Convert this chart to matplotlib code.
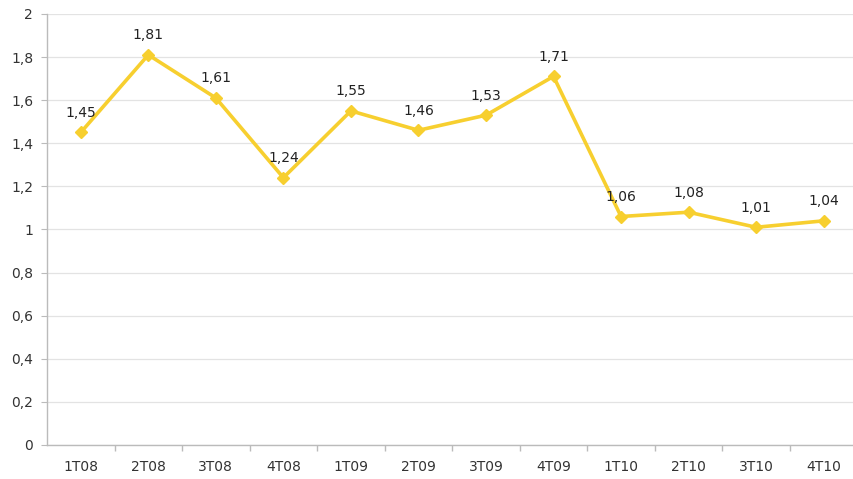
import numpy as np
import matplotlib.pyplot as plt
from matplotlib.ticker import FuncFormatter, FixedLocator

quarters = ['1T08', '2T08', '3T08', '4T08', '1T09', '2T09', '3T09', '4T09',
            '1T10', '2T10', '3T10', '4T10']
values = [1.45, 1.81, 1.61, 1.24, 1.55, 1.46, 1.53, 1.71, 1.06, 1.08, 1.01, 1.04]

fig = plt.figure(figsize=(8.54, 4.79), dpi=100)
ax = fig.add_axes([47 / 854, 0.071, 1 - 47 / 854 + 0.004, 0.900])

x = np.arange(len(quarters))
ax.plot(x, values, color='#F7CF2F', lw=2.6, marker='D', ms=6.5,
        markeredgecolor='#F7CF2F', zorder=3)

for xi, v in zip(x, values):
    ax.annotate(f'{v:.2f}'.replace('.', ','), (xi, v), xytext=(0, 9),
                textcoords='offset points', ha='center', va='bottom',
                fontsize=10, color='#222222')

ax.set_xlim(-0.5, len(quarters) - 0.5)
ax.set_ylim(0, 2)
ax.set_yticks(np.arange(0, 2.01, 0.2))
ax.yaxis.set_major_formatter(FuncFormatter(
    lambda v, p: ('%g' % round(v, 1)).replace('.', ',')))
ax.grid(axis='y', color='#E3E3E3', lw=0.9)
ax.set_axisbelow(True)

ax.set_xticks(x)
ax.set_xticklabels(quarters)
ax.xaxis.set_minor_locator(FixedLocator(np.arange(0.5, len(quarters) - 0.5, 1)))
ax.tick_params(axis='x', which='major', length=0, pad=11, labelsize=10,
               labelcolor='#333333')
ax.tick_params(axis='x', which='minor', length=4, color='#BBBBBB', width=1)
ax.tick_params(axis='y', length=4, color='#BBBBBB', labelsize=10,
               labelcolor='#333333', pad=6)

for s in ['top', 'right']:
    ax.spines[s].set_visible(False)
for s in ['left', 'bottom']:
    ax.spines[s].set_color('#BBBBBB')
    ax.spines[s].set_linewidth(1)

fig.savefig('out.png', dpi=100)
